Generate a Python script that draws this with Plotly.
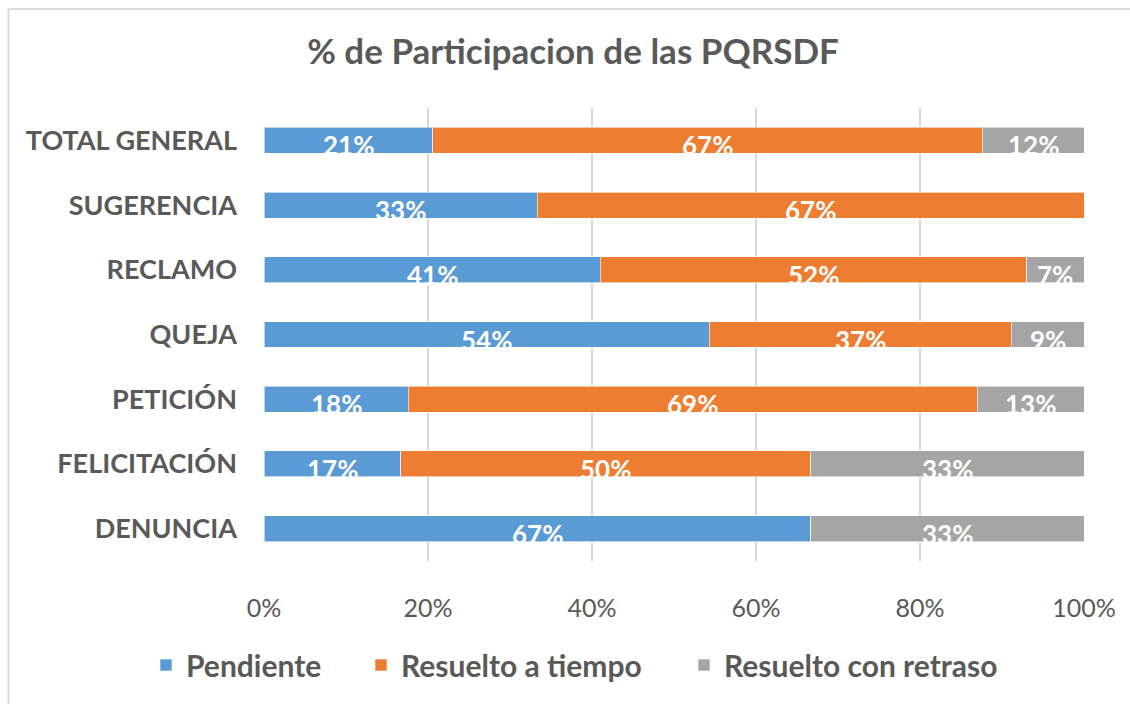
import plotly.graph_objects as go

categories = ["DENUNCIA", "FELICITACIÓN", "PETICIÓN", "QUEJA", "RECLAMO", "SUGERENCIA", "TOTAL GENERAL"]
pendiente = [66.7, 16.7, 17.6, 54.3, 41.0, 33.3, 20.6]
resuelto_tiempo = [0.0, 50.0, 69.4, 36.8, 52.0, 66.7, 67.0]
resuelto_retraso = [33.3, 33.3, 13.0, 8.9, 7.0, 0.0, 12.4]
x_ticks = [0, 20, 40, 60, 80, 100]

series = [
    ("Pendiente", pendiente, "#5B9BD5", "legend", 160),
    ("Resuelto a tiempo", resuelto_tiempo, "#ED7D31", "legend2", 375),
    ("Resuelto con retraso", resuelto_retraso, "#A5A5A5", "legend3", 698),
]

FONT = "Lato"
TEXT_GREY = "#595959"

L, R, T, B = 264, 46, 108, 143
PW, PH = 1130 - L - R, 704 - T - B
fx = lambda px: (px - L) / PW
fy = lambda py: (704 - B - py) / PH

fig = go.Figure()
for name, vals, color, leg, _ in series:
    fig.add_trace(go.Bar(
        y=categories, x=vals, name=name, orientation="h", legend=leg,
        showlegend=True,
        marker=dict(color=color, line=dict(color="rgba(255,255,255,0.6)", width=1)),
        width=0.4, hoverinfo="x+name",
    ))

# value labels centred on each segment, sitting a little low
annotations = []
for i, cat in enumerate(categories):
    start = 0.0
    for name, vals, color, _, _ in series:
        v = vals[i]
        if v > 0:
            annotations.append(dict(
                x=start + v / 2, y=cat, xref="x", yref="y",
                text=f"{round(v):d}%", showarrow=False, yshift=-5,
                font=dict(family=FONT, size=26, color="white", weight="bold"),
            ))
        start += v

# outer chart frame (light grey lines at top and left)
shapes = [
    dict(type="line", xref="paper", yref="paper", x0=fx(8.5), x1=fx(1130), y0=fy(9), y1=fy(9),
         line=dict(color="#D9D9D9", width=2)),
    dict(type="line", xref="paper", yref="paper", x0=fx(8.5), x1=fx(8.5), y0=fy(9), y1=fy(704),
         line=dict(color="#D9D9D9", width=2)),
]

# one legend box per series so each entry sits at its own spot
legend_style = dict(orientation="h", xanchor="left", y=fy(665), yanchor="middle",
                    font=dict(family=FONT, size=30, color=TEXT_GREY, weight="bold"),
                    itemwidth=30, bgcolor="rgba(0,0,0,0)", visible=True)
legends = {}
for _, _, _, leg, sq_left in series:
    legends[leg] = dict(legend_style, x=fx(sq_left - 14))

fig.update_layout(
    width=1130, height=704,
    margin=dict(l=L, r=R, t=T, b=B),
    paper_bgcolor="white", plot_bgcolor="white",
    showlegend=True,
    barmode="stack", bargap=0.6,
    title=dict(text="<b>% de Participacion de las PQRSDF</b>", x=573 / 1130, xanchor="center",
               y=1 - 52 / 704, yanchor="middle",
               font=dict(family=FONT, size=35, color=TEXT_GREY)),
    xaxis=dict(range=[0, 100], tickvals=x_ticks, ticktext=[f"{t}%" for t in x_ticks],
               showgrid=True, gridcolor="#D9D9D9", gridwidth=1.5, zeroline=False,
               showline=False, ticks="", ticklabelstandoff=30,
               tickfont=dict(family=FONT, size=25, color=TEXT_GREY)),
    yaxis=dict(categoryorder="array", categoryarray=categories, showgrid=False,
               zeroline=False, showline=False, ticks="", ticklabelstandoff=26,
               tickfont=dict(family=FONT, size=27, color=TEXT_GREY, weight="bold")),
    annotations=annotations,
    shapes=shapes,
    **legends,
)

fig.write_html("out.html")
